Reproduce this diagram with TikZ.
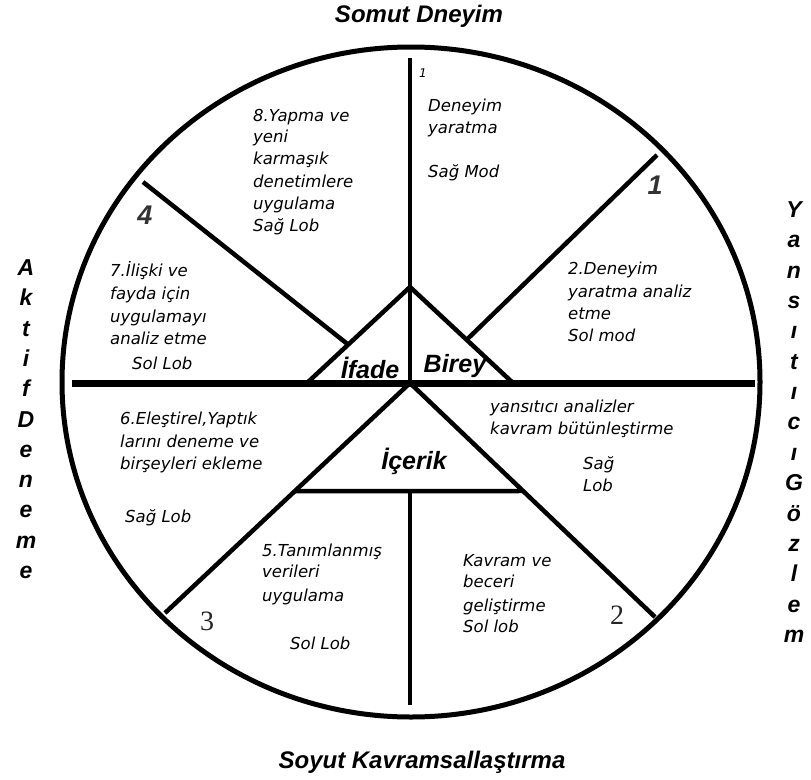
\documentclass[tikz,border=0pt]{standalone}
\usepackage{fontspec}
\setmainfont{Liberation Sans}
\newfontfamily\dvs{DejaVu Sans}
\newfontfamily\sernum{Liberation Serif}
\usetikzlibrary{calc}
\begin{document}
\begin{tikzpicture}[x=1pt,y=-1pt,
  every node/.style={inner sep=0pt},
  ring/.style={line width=5pt},
  spoke/.style={line width=4.5pt},
  mainline/.style={line width=7pt},
  secttext/.style={font=\dvs\itshape\fontsize{16.5}{20}\selectfont, anchor=west, text height=12pt, text depth=4pt},
  axislabel/.style={font=\bfseries\itshape\fontsize{24}{24}\selectfont},
  vletter/.style={font=\bfseries\itshape\fontsize{23}{23}\selectfont, text height=17pt, text depth=0pt, anchor=center},
  mid/.style={font=\bfseries\itshape\fontsize{25}{25}\selectfont},
  bignum/.style={font=\bfseries\itshape\fontsize{27}{27}\selectfont, text=black!80},
  sernumst/.style={font=\sernum\fontsize{28}{28}\selectfont, text=black!85}
]
\useasboundingbox (0,0) rectangle (811,779);
% geometry
\coordinate (C) at (410,383);
\coordinate (Top) at (410,58);
\coordinate (L) at (72,383);
\coordinate (R) at (755,383);
\coordinate (A) at (410,287);
\coordinate (BL) at (307,383);
\coordinate (BR) at (513,383);
\coordinate (UL) at (143,182);
\coordinate (UR) at (657,155);
\coordinate (LL) at (165,613);
\coordinate (LR) at (655,617);
\coordinate (Bt) at (410,491);
\coordinate (Bot) at (410,705);
\coordinate (LBL) at ($(C)!0.47!(LL)$);
\coordinate (LBR) at ($(C)!0.4615!(LR)$);
\coordinate (ULend) at ($(A)!0.6!(BL)$);
\coordinate (URend) at ($(A)!0.55!(BR)$);
% circle
\draw[ring] (411,382) ellipse [x radius=349, y radius=335];
% lines
\draw[spoke] (Top) -- (C);
\draw[mainline] (L) -- (R);
\draw[spoke] (BL) -- (A) -- (BR);
\draw[spoke] (UL) -- (ULend);
\draw[spoke] (UR) -- (URend);
\draw[spoke] (LL) -- (C) -- (LR);
\draw[spoke] (LBL) -- (LBR);
\draw[spoke] (Bt) -- (Bot);
% axis labels
\node[axislabel] (somut) at (419,16) {Somut Dneyim};
\node[axislabel] (soyut) at (422,762) {Soyut Kavramsallaştırma};
\foreach \l [count=\i from 0] in {A,k,t,i,f,D,e,n,e,m,e}
  \node[vletter] (ak\i) at (26,{267+30.3*\i}) {\l};
\foreach \l [count=\i from 0] in {Y,a,n,s,ı,t,ı,c,ı,G,ö,z,l,e,m}
  \node[vletter] (yg\i) at (794,{209+30.35*\i}) {\l};
% centre labels
\node[mid] (ifade) at (370,368) {İfade};
\node[mid] (birey) at (455,366) {Birey};
\node[mid] (icerik) at (414,461) {İçerik};
% numbers
\node[bignum] (n1) at (655,185) {1};
\node[bignum] (n4) at (145,215) {4};
\node[sernumst] (n3) at (207,621) {3};
\node[sernumst] (n2) at (617,615) {2};
\node[font=\dvs\itshape\fontsize{12}{12}\selectfont] (s1) at (423,73) {1};
% sector texts
\node[secttext] (a1) at (428,107) {Deneyim};
\node[secttext] (a2) at (428,129) {yaratma};
\node[secttext] (a3) at (428,173) {Sağ Mod};
\node[secttext] (b1) at (253,117) {8.Yapma ve};
\node[secttext] (b2) at (253,138) {yeni};
\node[secttext] (b3) at (253,160) {karmaşık};
\node[secttext] (b4) at (253,183) {denetimlere};
\node[secttext] (b5) at (253,205) {uygulama};
\node[secttext] (b6) at (253,227) {Sağ Lob};
\node[secttext] (c1) at (568,270) {2.Deneyim};
\node[secttext] (c2) at (568,293) {yaratma analiz};
\node[secttext] (c3) at (568,315) {etme};
\node[secttext] (c4) at (568,337) {Sol mod};
\node[secttext] (d1) at (110,272) {7.İlişki ve};
\node[secttext] (d2) at (110,295) {fayda için};
\node[secttext] (d3) at (110,318) {uygulamayı};
\node[secttext] (d4) at (110,340) {analiz etme};
\node[secttext] (d5) at (132,365) {Sol Lob};
\node[secttext] (e1) at (120,420) {6.Eleştirel,Yaptık};
\node[secttext] (e2) at (120,443) {larını deneme ve};
\node[secttext] (e3) at (120,465) {birşeyleri ekleme};
\node[secttext] (e4) at (125,518) {Sağ Lob};
\node[secttext] (f1) at (262,552) {5.Tanımlanmış};
\node[secttext] (f2) at (262,573) {verileri};
\node[secttext] (f3) at (262,597) {uygulama};
\node[secttext] (f4) at (290,645) {Sol Lob};
\node[secttext] (g1) at (490,408) {yansıtıcı analizler};
\node[secttext] (g2) at (490,430) {kavram bütünleştirme};
\node[secttext] (g3) at (583,465) {Sağ};
\node[secttext] (g4) at (583,487) {Lob};
\node[secttext] (h1) at (463,562) {Kavram ve};
\node[secttext] (h2) at (463,583) {beceri};
\node[secttext] (h3) at (463,607) {geliştirme};
\node[secttext] (h4) at (463,628) {Sol lob};
\end{tikzpicture}
\end{document}
